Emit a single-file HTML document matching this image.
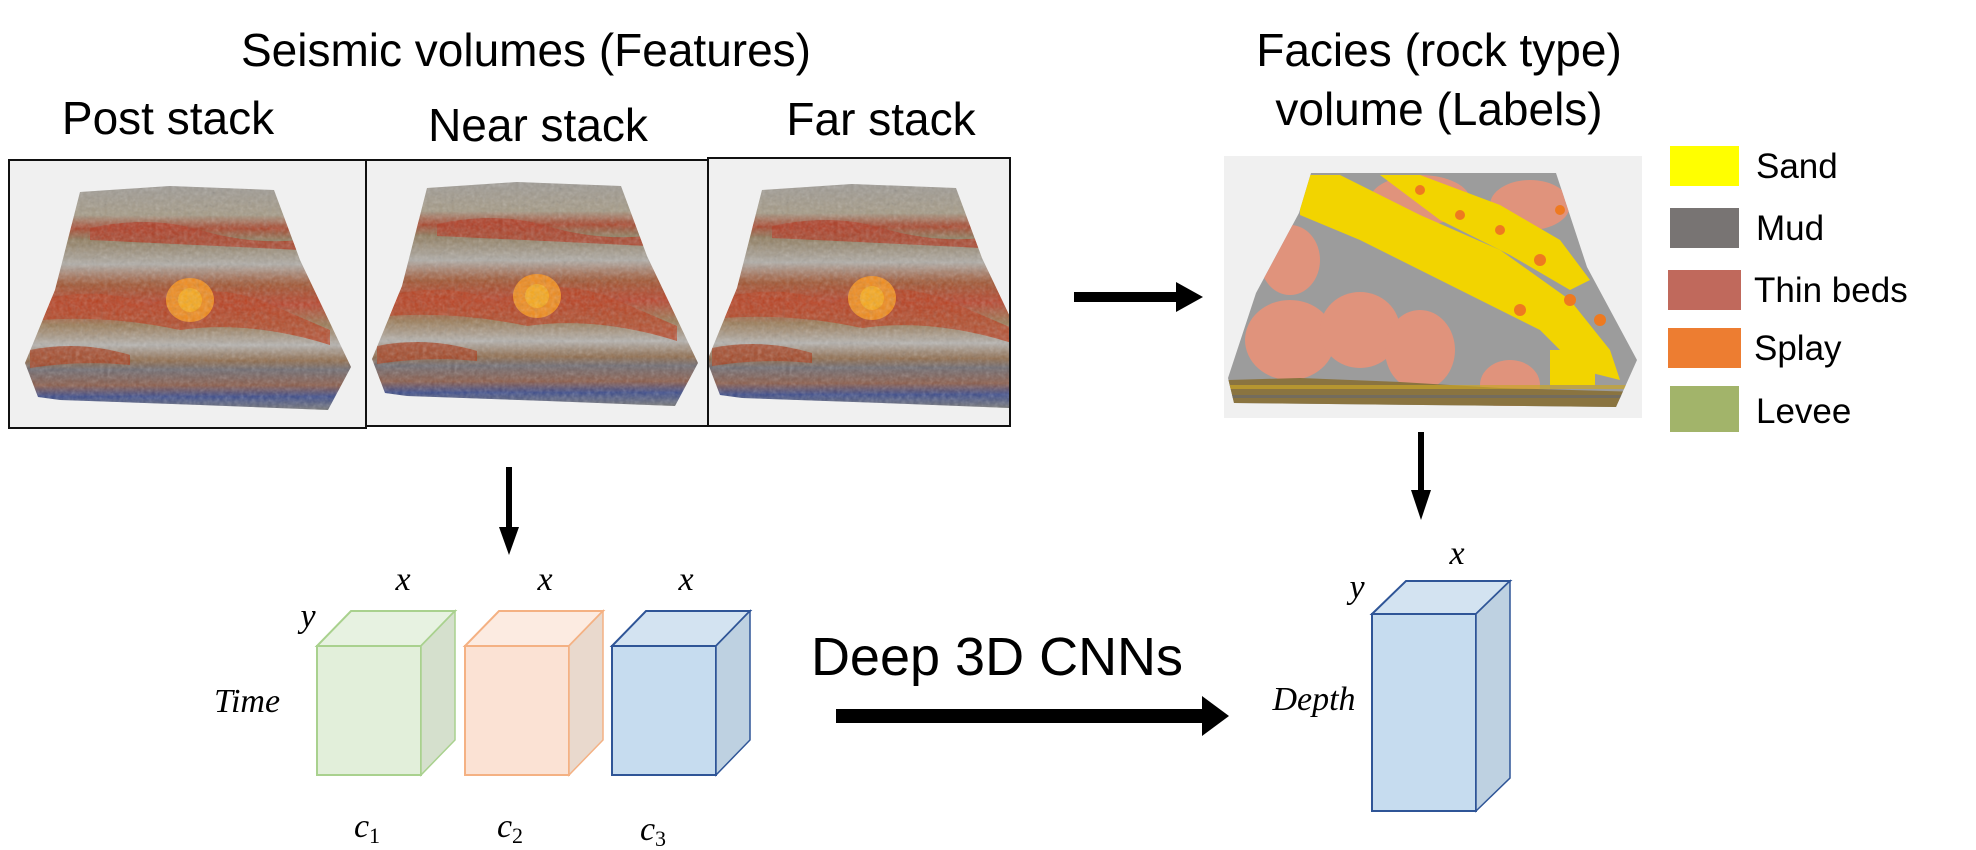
<!DOCTYPE html>
<html><head><meta charset="utf-8"><style>
html,body{margin:0;padding:0;background:#fff;}
svg{display:block;}
text{font-family:"Liberation Sans",sans-serif;fill:#000;}
.m{font-family:"Liberation Serif",serif;font-style:italic;font-size:34px;}
</style></head><body>
<svg width="1976" height="850" viewBox="0 0 1976 850">
<defs>
<linearGradient id="sg" gradientUnits="userSpaceOnUse" x1="0" y1="186" x2="0" y2="410">
<stop offset="0" stop-color="#9e9a94"/><stop offset="0.13" stop-color="#a59a85"/>
<stop offset="0.19" stop-color="#a8442a"/><stop offset="0.24" stop-color="#8f7b5c"/>
<stop offset="0.35" stop-color="#b0aca6"/><stop offset="0.44" stop-color="#a0532f"/>
<stop offset="0.53" stop-color="#b8422a"/><stop offset="0.62" stop-color="#9a7a55"/>
<stop offset="0.71" stop-color="#b5b2ae"/><stop offset="0.78" stop-color="#8e6a4a"/>
<stop offset="0.82" stop-color="#6e6a70"/><stop offset="0.89" stop-color="#8a5a48"/>
<stop offset="0.94" stop-color="#3a4a8a"/><stop offset="1" stop-color="#777"/>
</linearGradient>
<filter id="nz"><feTurbulence type="fractalNoise" baseFrequency="0.25" numOctaves="2" seed="3"/><feColorMatrix type="saturate" values="0"/><feComponentTransfer><feFuncA type="linear" slope="0.35"/></feComponentTransfer></filter>
<clipPath id="sclip"><polygon points="80,192 170,186 274,190 300,260 351,367 328,410 200,405 60,400 38,397 25,363 55,290"/></clipPath>
<clipPath id="fclip"><polygon points="1311,173 1556,173 1587,267 1637,360 1616,407 1234,403 1228,378 1256,293 1299,213"/></clipPath>
<clipPath id="farclip"><rect x="709" y="159" width="300" height="266"/></clipPath>
<g id="blob">
<g clip-path="url(#sclip)">
<rect x="0" y="180" width="360" height="240" fill="url(#sg)"/>
<path d="M90,228 Q150,215 200,230 T300,240 L300,250 Q200,245 90,240Z" fill="#b03a22" opacity="0.8"/>
<path d="M40,300 Q100,285 150,305 Q200,280 260,300 L330,330 L330,345 Q250,320 180,330 Q110,315 40,320Z" fill="#b8401f" opacity="0.8"/>
<ellipse cx="190" cy="300" rx="24" ry="22" fill="#f08a1a"/>
<ellipse cx="190" cy="300" rx="12" ry="12" fill="#f8a81a"/>
<path d="M30,350 Q80,340 130,355 L130,365 Q80,360 30,368Z" fill="#a8401f" opacity="0.8"/>
<rect x="0" y="180" width="360" height="240" filter="url(#nz)"/>
</g>
</g>
</defs>

<text x="526" y="66" font-size="46" text-anchor="middle">Seismic volumes (Features)</text>
<text x="168" y="134" font-size="46" text-anchor="middle">Post stack</text>
<text x="538" y="141" font-size="46" text-anchor="middle">Near stack</text>
<text x="881" y="135" font-size="46" text-anchor="middle">Far stack</text>

<g>
<rect x="9" y="160" width="357" height="268" fill="#f0f0f0" stroke="#111" stroke-width="2"/>
<use href="#blob" x="0" y="0"/>
</g>
<g>
<rect x="366" y="160" width="342" height="266" fill="#f0f0f0" stroke="#111" stroke-width="2"/>
<use href="#blob" x="347" y="-4"/>
</g>
<g>
<rect x="708" y="158" width="302" height="268" fill="#f0f0f0" stroke="#111" stroke-width="2"/>
<g clip-path="url(#farclip)"><use href="#blob" x="682" y="-2"/></g>
</g>

<g>
<rect x="1074" y="292" width="105" height="10" fill="#000"/>
<polygon points="1176,282 1203,297 1176,312" fill="#000"/>
</g>

<text x="1439" y="66" font-size="46" text-anchor="middle">Facies (rock type)</text>
<text x="1439" y="125" font-size="46" text-anchor="middle">volume (Labels)</text>

<g>
<rect x="1224" y="156" width="418" height="262" fill="#f0f0f0"/>
<g clip-path="url(#fclip)">
<rect x="1220" y="170" width="430" height="240" fill="#9c9c9c"/>
<ellipse cx="1290" cy="340" rx="45" ry="40" fill="#e0937c"/>
<ellipse cx="1360" cy="330" rx="40" ry="38" fill="#e0937c"/>
<ellipse cx="1290" cy="260" rx="30" ry="35" fill="#e0937c"/>
<ellipse cx="1420" cy="350" rx="35" ry="40" fill="#e0937c"/>
<ellipse cx="1510" cy="385" rx="30" ry="25" fill="#e0937c"/>
<ellipse cx="1420" cy="200" rx="50" ry="25" fill="#e0937c"/>
<ellipse cx="1530" cy="205" rx="40" ry="25" fill="#e0937c"/>
<polygon points="1300,175 1340,175 1420,215 1500,250 1570,300 1610,350 1620,380 1580,370 1540,330 1480,300 1420,270 1360,240 1300,215" fill="#f2d400"/>
<polygon points="1380,175 1420,175 1500,205 1560,240 1590,280 1570,290 1510,255 1440,220" fill="#f2d400"/>
<polygon points="1550,350 1595,350 1595,385 1550,385" fill="#f2d400"/>
<circle cx="1420" cy="190" r="5" fill="#ee7a20"/><circle cx="1460" cy="215" r="5" fill="#ee7a20"/>
<circle cx="1500" cy="230" r="5" fill="#ee7a20"/><circle cx="1540" cy="260" r="6" fill="#ee7a20"/>
<circle cx="1570" cy="300" r="6" fill="#ee7a20"/><circle cx="1560" cy="210" r="5" fill="#ee7a20"/>
<circle cx="1520" cy="310" r="6" fill="#ee7a20"/><circle cx="1600" cy="320" r="6" fill="#ee7a20"/>
<polygon points="1228,380 1300,378 1400,382 1500,388 1640,392 1640,410 1228,410" fill="#8a7440"/>
<rect x="1220" y="385" width="430" height="4" fill="#c9a52a" opacity="0.7"/>
<rect x="1220" y="395" width="430" height="3" fill="#6a6a6a" opacity="0.7"/>
</g>
</g>

<g>
<g><rect x="1670" y="146" width="69" height="40" fill="#ffff00"/><text x="1756" y="178" font-size="35">Sand</text></g>
<g><rect x="1670" y="208" width="69" height="40" fill="#787473"/><text x="1756" y="240" font-size="35">Mud</text></g>
<g><rect x="1668" y="270" width="73" height="40" fill="#c0695c"/><text x="1754" y="302" font-size="35">Thin beds</text></g>
<g><rect x="1668" y="328" width="73" height="40" fill="#ed7d31"/><text x="1754" y="360" font-size="35">Splay</text></g>
<g><rect x="1670" y="386" width="69" height="46" fill="#a2b46a"/><text x="1756" y="423" font-size="35">Levee</text></g>
</g>

<g>
<rect x="506" y="467" width="6" height="62" fill="#000"/>
<polygon points="499,527 519,527 509,555" fill="#000"/>
</g>
<g>
<rect x="1418" y="432" width="6" height="60" fill="#000"/>
<polygon points="1411,490 1431,490 1421,520" fill="#000"/>
</g>

<g>
<rect x="317" y="646" width="104" height="129" fill="#e2efda" stroke="#a9d18e" stroke-width="2"/>
<polygon points="317,646 351,611 455,611 421,646" fill="#e7f2e1" stroke="#a9d18e" stroke-width="2"/>
<polygon points="421,646 455,611 455,740 421,775" fill="#d5e0cd" stroke="#a9d18e" stroke-width="1.5"/>
</g>
<g>
<rect x="465" y="646" width="104" height="129" fill="#fbe2d4" stroke="#f4b183" stroke-width="2"/>
<polygon points="465,646 499,611 603,611 569,646" fill="#fcebe1" stroke="#f4b183" stroke-width="2"/>
<polygon points="569,646 603,611 603,740 569,775" fill="#e9d9cd" stroke="#f4b183" stroke-width="1.5"/>
</g>
<g>
<rect x="612" y="646" width="104" height="129" fill="#c6dcef" stroke="#2f5597" stroke-width="2"/>
<polygon points="612,646 646,611 750,611 716,646" fill="#d3e3f1" stroke="#2f5597" stroke-width="2"/>
<polygon points="716,646 750,611 750,740 716,775" fill="#bed1e1" stroke="#2f5597" stroke-width="1.5"/>
</g>
<g>
<rect x="1372" y="614" width="104" height="197" fill="#c6dcef" stroke="#2f5597" stroke-width="2"/>
<polygon points="1372,614 1406,581 1510,581 1476,614" fill="#d3e3f1" stroke="#2f5597" stroke-width="2"/>
<polygon points="1476,614 1510,581 1510,778 1476,811" fill="#bed1e1" stroke="#2f5597" stroke-width="1.5"/>
</g>

<text class="m" x="403" y="590" text-anchor="middle">x</text>
<text class="m" x="545" y="590" text-anchor="middle">x</text>
<text class="m" x="686" y="590" text-anchor="middle">x</text>
<text class="m" x="308" y="627" text-anchor="middle">y</text>
<text class="m" x="247" y="712" text-anchor="middle">Time</text>
<text class="m" x="367" y="837" text-anchor="middle">c<tspan font-size="22" dy="6" font-style="normal">1</tspan></text>
<text class="m" x="510" y="837" text-anchor="middle">c<tspan font-size="22" dy="6" font-style="normal">2</tspan></text>
<text class="m" x="653" y="840" text-anchor="middle">c<tspan font-size="22" dy="6" font-style="normal">3</tspan></text>
<text class="m" x="1457" y="564" text-anchor="middle">x</text>
<text class="m" x="1357" y="598" text-anchor="middle">y</text>
<text class="m" x="1314" y="710" text-anchor="middle">Depth</text>

<text x="997" y="675" font-size="54" text-anchor="middle">Deep 3D CNNs</text>
<g>
<rect x="836" y="709" width="370" height="14" fill="#000"/>
<polygon points="1202,696 1229,716 1202,736" fill="#000"/>
</g>
</svg>
</body></html>
